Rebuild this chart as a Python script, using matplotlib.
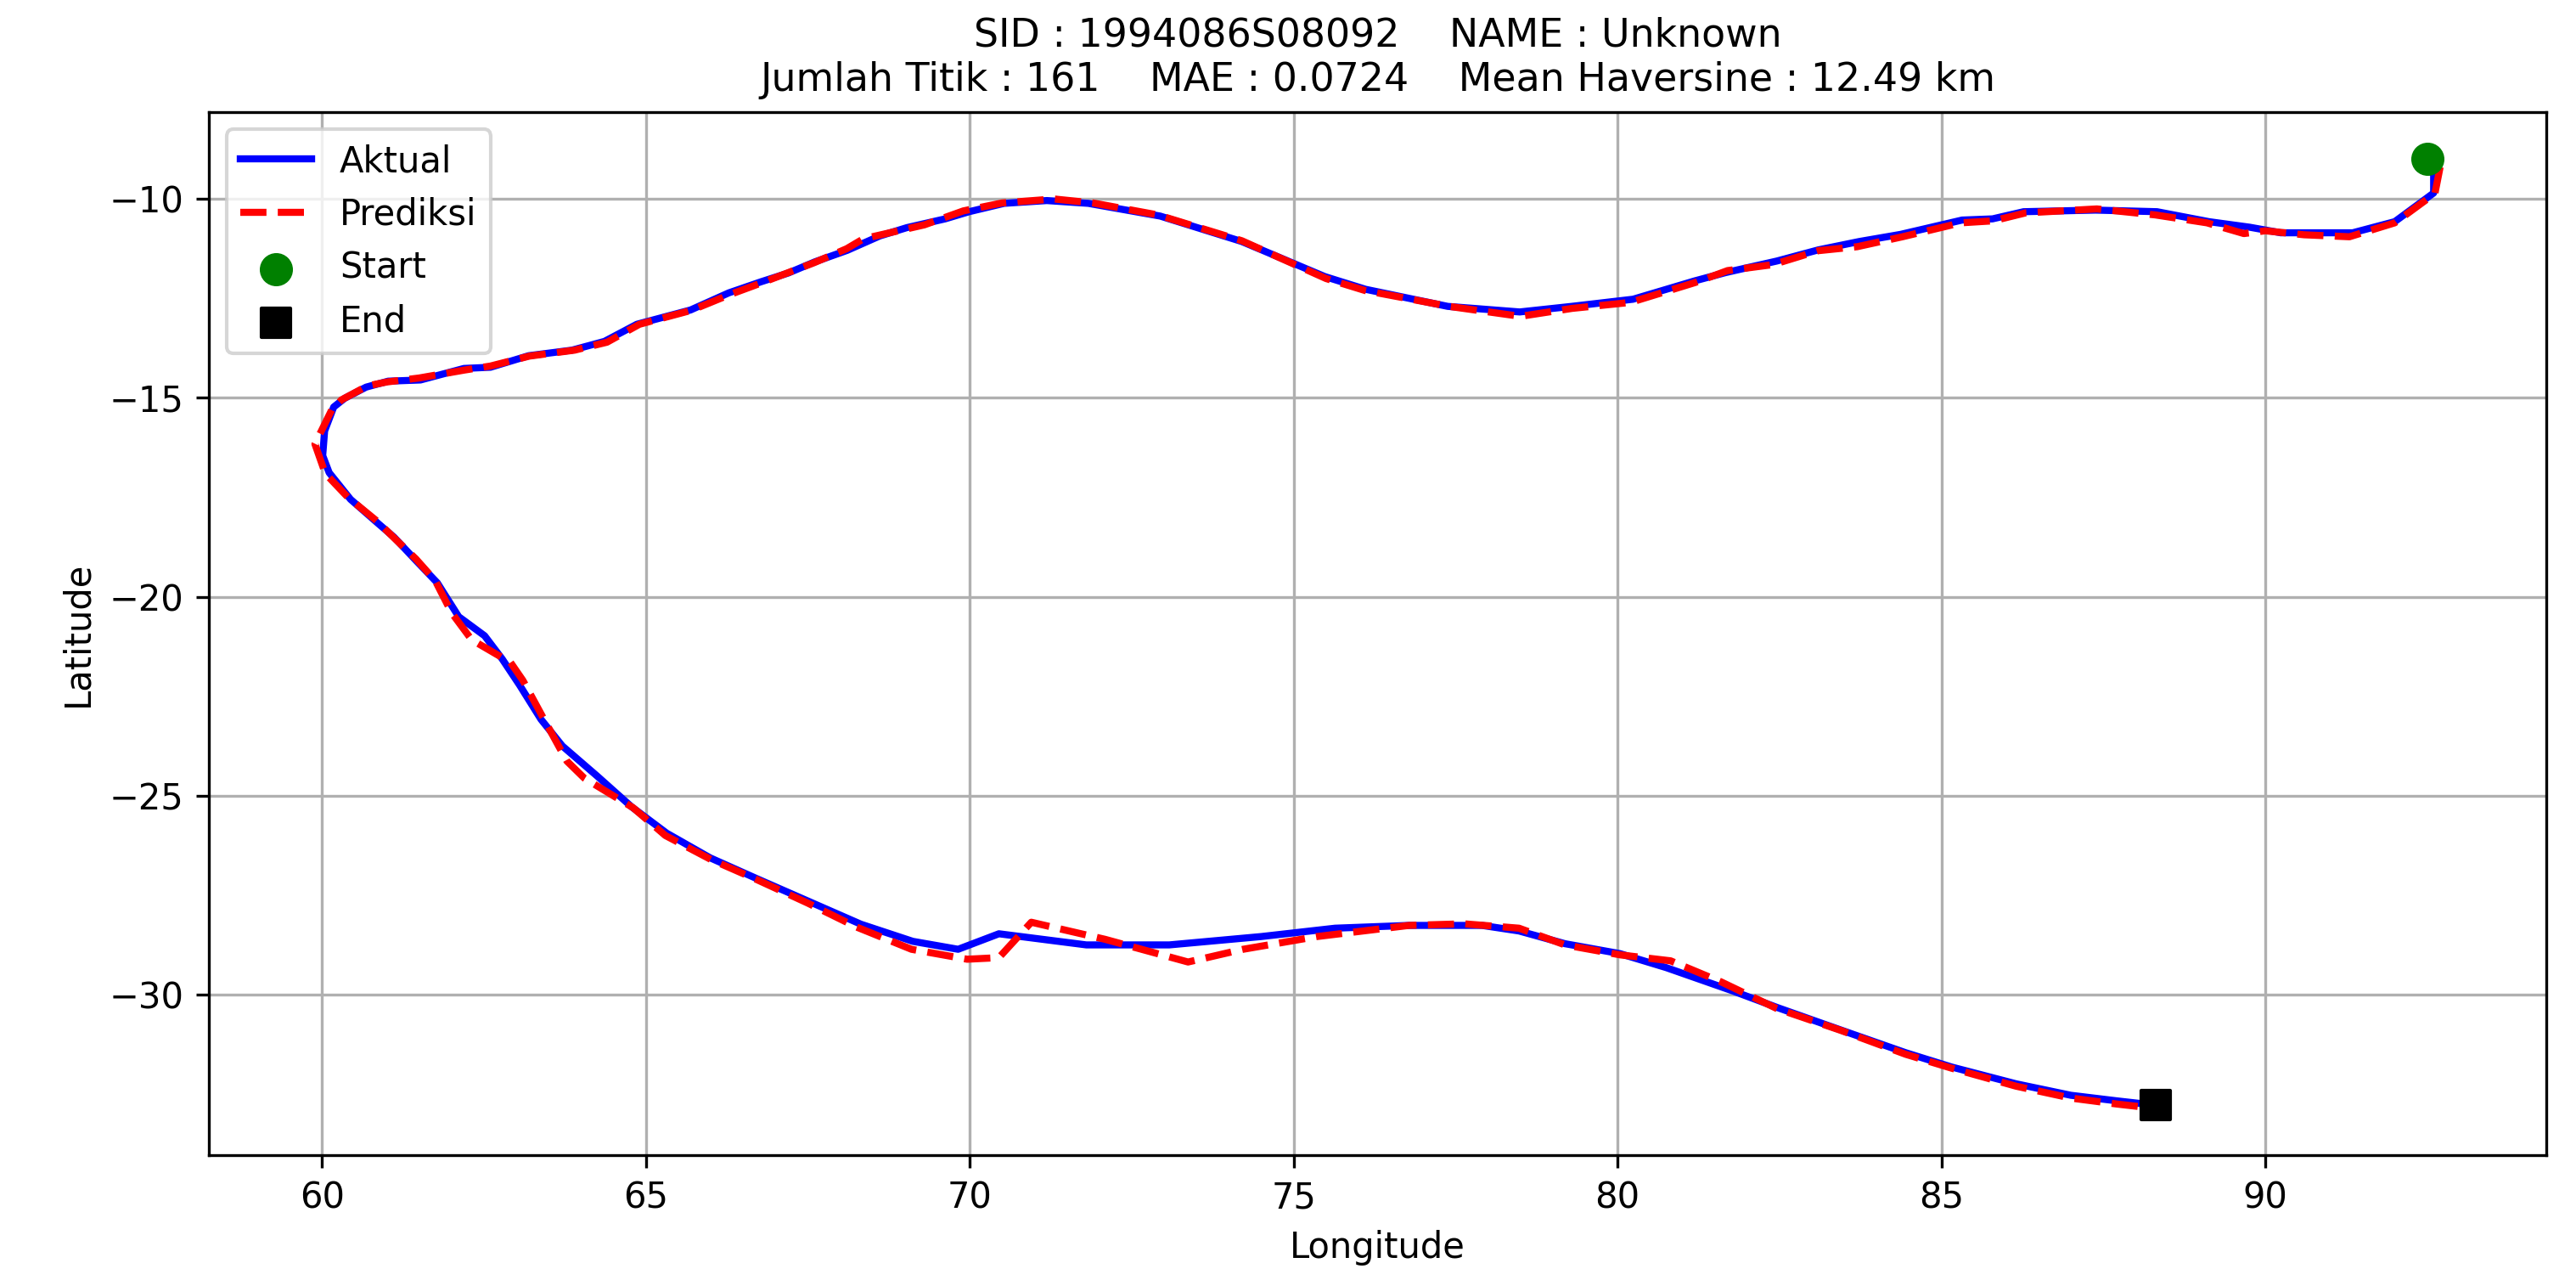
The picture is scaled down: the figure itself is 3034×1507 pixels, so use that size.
import matplotlib
matplotlib.use("Agg")
import matplotlib.pyplot as plt

sid = "1994086S08092"
name = "Unknown"
n_points = 161
mae = 0.0724
mean_hav = 12.49

act_lon = [92.5, 92.6, 92.6, 92.0, 91.35, 90.24, 89.76, 89.13, 88.33, 87.38, 86.27, 85.79, 85.32,
           84.37, 83.73, 83.1, 82.46, 81.67, 81.19, 80.24, 79.29, 78.49, 77.38, 76.11, 75.48, 74.2,
           72.94, 71.83, 71.19, 70.53, 69.99, 69.62, 69.03, 68.61, 68.11, 67.61, 67.2, 66.78, 66.28,
           65.69, 64.86, 64.36, 63.86, 63.19, 62.6, 62.19, 61.52, 61.02, 60.68, 60.35, 60.18, 60.04,
           60.01, 60.11, 60.44, 60.84, 61.11, 61.44, 61.78, 62.11, 62.51, 62.78, 63.05, 63.38, 63.71,
           64.25, 64.78, 65.32, 65.99, 66.72, 67.52, 68.32, 69.12, 69.82, 70.45, 71.8, 73.08, 74.5,
           75.64, 76.78, 77.91, 78.48, 79.19, 80.04, 80.75, 81.75, 82.46, 83.45, 84.45, 85.16, 86.15,
           87.0, 87.71, 88.31]
act_lat = [-9.0, -9.4, -9.85, -10.57, -10.85, -10.85, -10.71, -10.57, -10.32, -10.28, -10.32, -10.5,
           -10.53, -10.89, -11.07, -11.28, -11.56, -11.85, -12.06, -12.52, -12.7, -12.84, -12.7, -12.27,
           -11.95, -11.07, -10.43, -10.11, -10.04, -10.11, -10.32, -10.5, -10.72, -10.93, -11.29, -11.58,
           -11.86, -12.08, -12.36, -12.79, -13.15, -13.58, -13.8, -13.94, -14.23, -14.26, -14.55, -14.58,
           -14.73, -15.01, -15.23, -15.83, -16.45, -16.88, -17.55, -18.12, -18.5, -19.07, -19.65, -20.5,
           -20.98, -21.56, -22.22, -23.08, -23.75, -24.51, -25.28, -25.94, -26.56, -27.09, -27.66, -28.23,
           -28.66, -28.86, -28.47, -28.75, -28.75, -28.54, -28.33, -28.26, -28.26, -28.4, -28.72, -28.97,
           -29.32, -29.89, -30.32, -30.89, -31.46, -31.82, -32.24, -32.53, -32.67, -32.78]

pred_lon = [92.7, 92.62, 92.0, 91.3, 90.6, 90.0, 89.67, 89.1, 88.3, 87.4, 86.3, 85.8, 85.3, 84.4,
            83.7, 83.1, 82.4, 81.7, 81.2, 80.2, 79.3, 78.5, 77.4, 76.1, 75.5, 74.2, 72.9, 71.9, 71.3,
            70.5, 69.9, 69.3, 68.36, 68.1, 67.6, 67.2, 66.8, 66.3, 65.7, 64.9, 64.4, 63.9, 63.2, 62.6,
            62.2, 61.5, 61.0, 60.7, 60.3, 60.15, 59.89, 60.05, 60.4, 60.85, 61.1, 61.45, 61.75, 62.0,
            62.31, 62.91, 63.1, 63.4, 63.78, 64.05, 64.8, 65.3, 66.0, 66.7, 67.5, 68.25, 69.1, 69.96,
            70.45, 70.95, 72.09, 73.37, 74.22, 75.36, 76.78, 77.63, 78.48, 79.19, 80.04, 80.82, 81.6,
            82.46, 83.45, 84.45, 85.16, 86.15, 87.0, 87.71, 88.25]
pred_lat = [-9.2, -9.86, -10.6, -10.95, -10.9, -10.8, -10.87, -10.6, -10.4, -10.25, -10.35, -10.55,
            -10.6, -10.95, -11.2, -11.3, -11.65, -11.8, -12.1, -12.6, -12.75, -12.95, -12.7, -12.3,
            -12.0, -11.05, -10.4, -10.1, -10.0, -10.1, -10.3, -10.65, -11.0, -11.25, -11.6, -11.85,
            -12.1, -12.4, -12.8, -13.15, -13.6, -13.8, -13.95, -14.2, -14.3, -14.5, -14.6, -14.7,
            -15.05, -15.3, -16.16, -16.9, -17.5, -18.1, -18.5, -19.05, -19.6, -20.4, -21.08, -21.65,
            -22.1, -23.0, -24.13, -24.56, -25.3, -26.0, -26.6, -27.1, -27.7, -28.3, -28.86, -29.11,
            -29.07, -28.18, -28.61, -29.18, -28.86, -28.54, -28.26, -28.22, -28.33, -28.75, -29.0,
            -29.15, -29.68, -30.35, -30.9, -31.5, -31.85, -32.3, -32.6, -32.75, -32.85]

fig, ax = plt.subplots(figsize=(3034 / 300, 1507 / 300), dpi=300)
fig.subplots_adjust(left=0.081, right=0.9885, top=0.9127, bottom=0.0973)

ax.plot(act_lon, act_lat, color="blue", linestyle="-", linewidth=2, label="Aktual")
ax.plot(pred_lon, pred_lat, color="red", linestyle="--", linewidth=2, label="Prediksi")
ax.scatter([act_lon[0]], [act_lat[0]], color="green", s=70, zorder=5, label="Start")
ax.scatter([act_lon[-1]], [act_lat[-1]], color="black", marker="s", s=70, zorder=5, label="End")

ax.set_title(f"SID : {sid}    NAME : {name}\nJumlah Titik : {n_points}    MAE : {mae:.4f}    Mean Haversine : {mean_hav:.2f} km",
             fontsize=11)
ax.set_xlabel("Longitude")
ax.set_ylabel("Latitude")
ax.grid(True)
ax.legend(loc="upper left")

fig.savefig("out.png", dpi=300)
